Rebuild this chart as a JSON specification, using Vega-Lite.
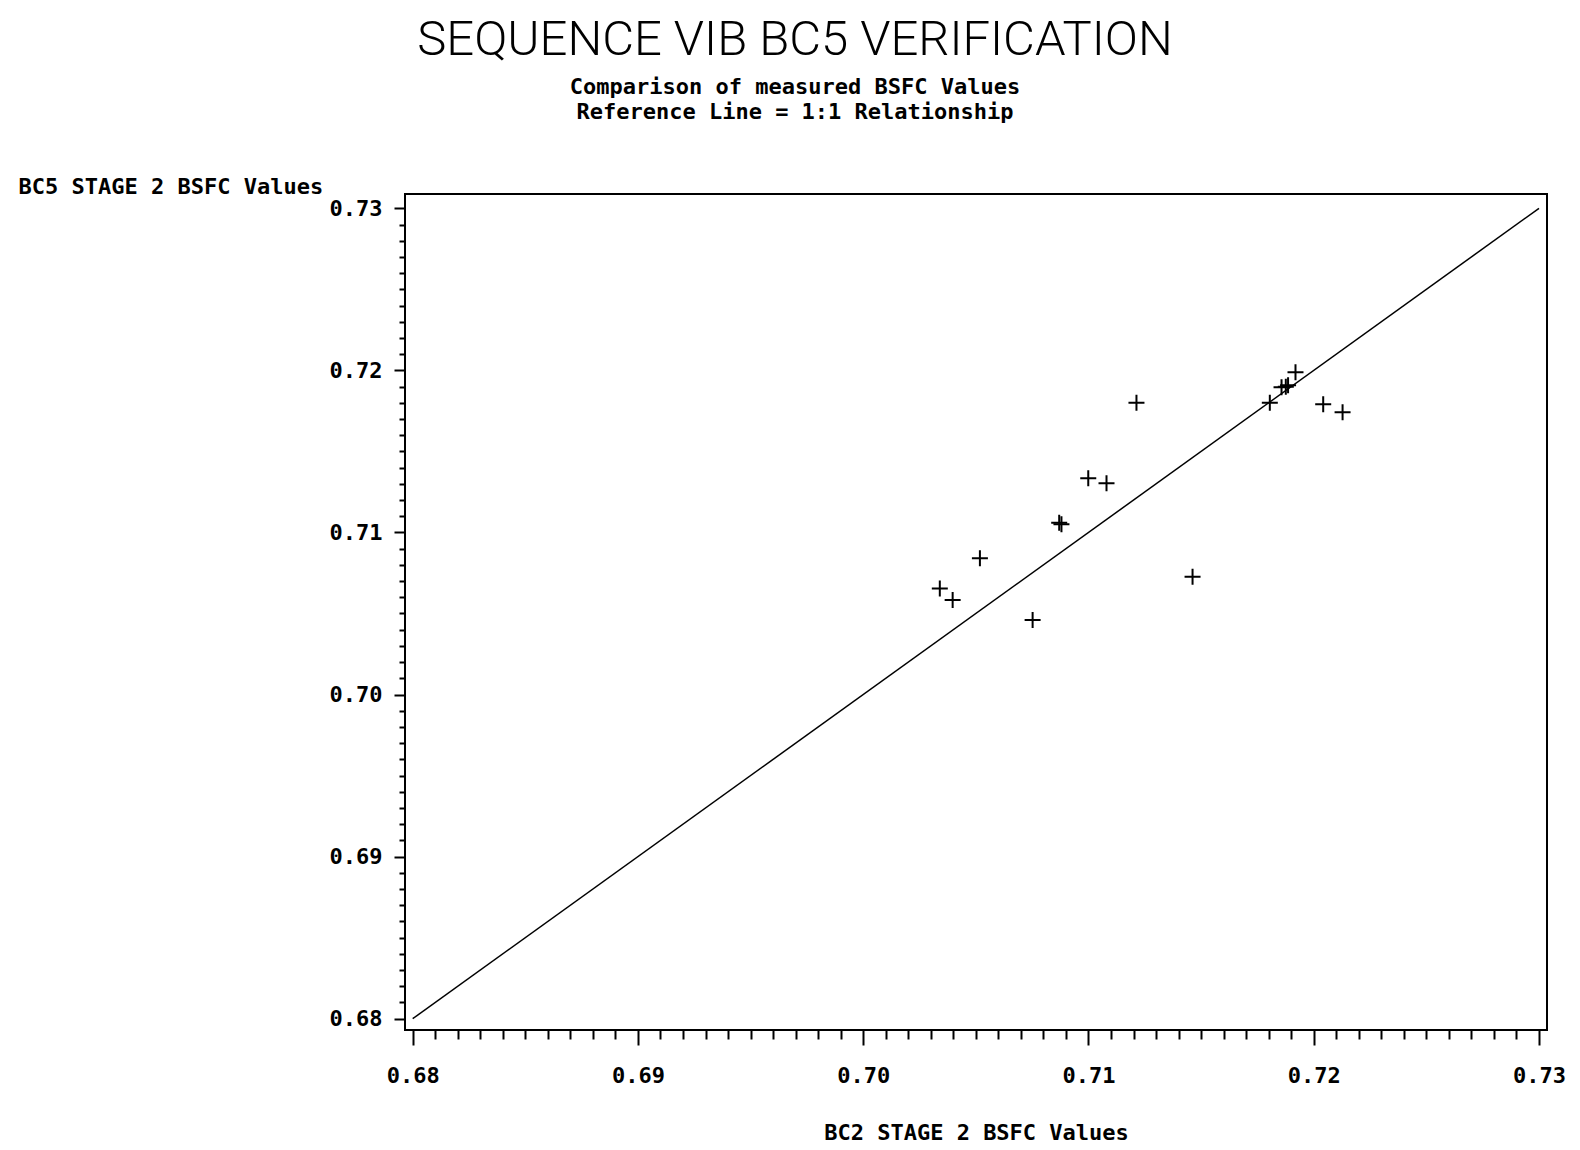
{
  "$schema": "https://vega.github.io/schema/vega-lite/v6.json",
  "width": 1142,
  "height": 836,
  "autosize": {"type": "none"},
  "padding": {"left": 405, "top": 194, "right": 33, "bottom": 120},
  "background": "white",
  "config": {"view": {"stroke": "black", "strokeWidth": 2}},
  "title": {
    "text": "SEQUENCE VIB BC5 VERIFICATION",
    "subtitle": ["Comparison of measured BSFC Values", "Reference Line = 1:1 Relationship"],
    "font": "Roboto",
    "fontWeight": 300,
    "fontSize": 49,
    "color": "black",
    "subtitleFont": "DejaVu Sans Mono",
    "subtitleFontWeight": "bold",
    "subtitleFontSize": 22,
    "subtitleColor": "black",
    "subtitleLineHeight": 25,
    "subtitlePadding": 12,
    "anchor": "middle",
    "dx": -181,
    "offset": 52
  },
  "datasets": {
    "ref": [
      {"bc2": 0.68, "bc5": 0.68},
      {"bc2": 0.73, "bc5": 0.73}
    ],
    "points": [
      {"bc2": 0.71213, "bc5": 0.7180},
      {"bc2": 0.70999, "bc5": 0.71334},
      {"bc2": 0.71080, "bc5": 0.71303},
      {"bc2": 0.70870, "bc5": 0.71060},
      {"bc2": 0.70880, "bc5": 0.71050},
      {"bc2": 0.70518, "bc5": 0.70841},
      {"bc2": 0.70340, "bc5": 0.70655},
      {"bc2": 0.70397, "bc5": 0.70583},
      {"bc2": 0.70752, "bc5": 0.70460},
      {"bc2": 0.71462, "bc5": 0.70727},
      {"bc2": 0.71805, "bc5": 0.71800},
      {"bc2": 0.71857, "bc5": 0.71896},
      {"bc2": 0.71876, "bc5": 0.71899},
      {"bc2": 0.71886, "bc5": 0.71909},
      {"bc2": 0.71919, "bc5": 0.71988},
      {"bc2": 0.72042, "bc5": 0.71791},
      {"bc2": 0.72128, "bc5": 0.71741}
    ]
  },
  "layer": [
    {
      "data": {"name": "ref"},
      "mark": {"type": "line", "color": "black", "strokeWidth": 1.5},
      "encoding": {
        "x": {
          "field": "bc2",
          "type": "quantitative",
          "scale": {"domain": [0.679658, 0.730355], "nice": false, "zero": false},
          "axis": {
            "values": [0.68, 0.681, 0.682, 0.683, 0.684, 0.685, 0.686, 0.687, 0.688, 0.689, 0.69, 0.691, 0.692, 0.693, 0.694, 0.695, 0.696, 0.697, 0.698, 0.699, 0.70, 0.701, 0.702, 0.703, 0.704, 0.705, 0.706, 0.707, 0.708, 0.709, 0.71, 0.711, 0.712, 0.713, 0.714, 0.715, 0.716, 0.717, 0.718, 0.719, 0.72, 0.721, 0.722, 0.723, 0.724, 0.725, 0.726, 0.727, 0.728, 0.729, 0.73],
            "tickCount": 100,
            "format": ".2f",
            "labelExpr": "abs(datum.value*100 - round(datum.value*100)) < 0.01 ? datum.label : ''",
            "tickSize": {"condition": {"test": "abs(datum.value*100 - round(datum.value*100)) < 0.01", "value": 15}, "value": 9},
            "tickWidth": 2,
            "tickColor": "black",
            "domain": false,
            "grid": false,
            "labelFont": "DejaVu Sans Mono",
            "labelFontWeight": "bold",
            "labelFontSize": 22,
            "labelColor": "black",
            "labelPadding": 20,
            "labelOverlap": false,
            "labelFlush": false,
            "title": "BC2 STAGE 2 BSFC Values",
            "titleFont": "DejaVu Sans Mono",
            "titleFontWeight": "bold",
            "titleFontSize": 22,
            "titleColor": "black",
            "titlePadding": 36
          }
        },
        "y": {
          "field": "bc5",
          "type": "quantitative",
          "scale": {"domain": [0.679303, 0.730882], "nice": false, "zero": false},
          "axis": {
            "values": [0.68, 0.681, 0.682, 0.683, 0.684, 0.685, 0.686, 0.687, 0.688, 0.689, 0.69, 0.691, 0.692, 0.693, 0.694, 0.695, 0.696, 0.697, 0.698, 0.699, 0.70, 0.701, 0.702, 0.703, 0.704, 0.705, 0.706, 0.707, 0.708, 0.709, 0.71, 0.711, 0.712, 0.713, 0.714, 0.715, 0.716, 0.717, 0.718, 0.719, 0.72, 0.721, 0.722, 0.723, 0.724, 0.725, 0.726, 0.727, 0.728, 0.729, 0.73],
            "tickCount": 100,
            "format": ".2f",
            "labelExpr": "abs(datum.value*100 - round(datum.value*100)) < 0.01 ? datum.label : ''",
            "tickSize": {"condition": {"test": "abs(datum.value*100 - round(datum.value*100)) < 0.01", "value": 11}, "value": 6},
            "tickWidth": 2,
            "tickColor": "black",
            "domain": false,
            "grid": false,
            "labelFont": "DejaVu Sans Mono",
            "labelFontWeight": "bold",
            "labelFontSize": 22,
            "labelColor": "black",
            "labelPadding": 12,
            "labelOverlap": false,
            "labelFlush": false,
            "title": "BC5 STAGE 2 BSFC Values",
            "titleFont": "DejaVu Sans Mono",
            "titleFontWeight": "bold",
            "titleFontSize": 22,
            "titleColor": "black",
            "titleAngle": 0,
            "titleAlign": "left",
            "titleBaseline": "middle",
            "titleX": -387,
            "titleY": -8
          }
        }
      }
    },
    {
      "data": {"name": "points"},
      "mark": {"type": "point", "shape": "M-1,0H1M0,-1V1", "size": 256, "filled": false, "stroke": "black", "strokeWidth": 2, "opacity": 1},
      "encoding": {
        "x": {"field": "bc2", "type": "quantitative", "scale": {"domain": [0.679658, 0.730355], "nice": false, "zero": false}},
        "y": {"field": "bc5", "type": "quantitative", "scale": {"domain": [0.679303, 0.730882], "nice": false, "zero": false}}
      }
    }
  ]
}
